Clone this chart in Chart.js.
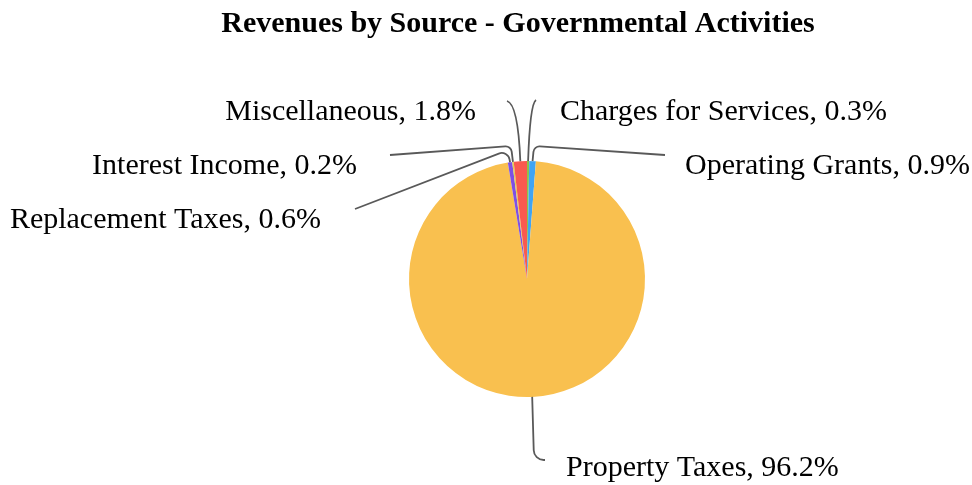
<!DOCTYPE html>
<html>
<head>
<meta charset="utf-8">
<script src="https://cdn.jsdelivr.net/npm/chart.js@4.4.1/dist/chart.umd.min.js"></script>
<style>
    html, body { margin: 0; padding: 0; background: #fff; }
    #wrap { width: 972px; height: 485px; position: relative; }
</style>
</head>
<body>
<div id="wrap"><canvas id="revenueChart"></canvas></div>
<script>
// slices clockwise from 12 o'clock
const categories = [
    "Charges for Services",
    "Operating Grants",
    "Property Taxes",
    "Replacement Taxes",
    "Interest Income",
    "Miscellaneous",
];
const shares = [0.3, 0.9, 96.2, 0.6, 0.2, 1.8];
const sliceColors = ["#8bc34a", "#40a4f4", "#f9c04f", "#7e50e4", "#e2d24c", "#f95a4f"];

// where each label sits and how its leader line runs
const labelLayout = [
    { x: 560, y: 120, align: "left", elbow: [530, 104], end: [536, 100], curve: "quad" },
    { x: 685, y: 174, align: "left", elbow: [534, 146], end: [665, 155], r: 6 },
    { x: 566, y: 476, align: "left", elbow: [534, 460], end: [545, 460], r: 10 },
    { x: 321, y: 228, align: "right", elbow: [508, 150], end: [355, 209], r: 8 },
    { x: 357, y: 174, align: "right", elbow: [511, 146], end: [390, 155], r: 6 },
    { x: 476, y: 120, align: "right", elbow: [518, 104], end: [507, 101], curve: "quad" },
];

const leaderLabels = {
    id: "leaderLabels",
    afterDraw(chart) {
        const ctx = chart.ctx;
        const meta = chart.getDatasetMeta(0);
        ctx.save();

        // title
        ctx.fillStyle = "#000";
        ctx.font = "bold 30px 'Liberation Serif', 'Times New Roman', serif";
        ctx.textAlign = "center";
        ctx.textBaseline = "alphabetic";
        ctx.fillText("Revenues by Source - Governmental Activities", 518, 32);

        meta.data.forEach((arc, i) => {
            const p = arc.getProps(["x", "y", "startAngle", "endAngle", "outerRadius"], true);
            const mid = (p.startAngle + p.endAngle) / 2;
            const ax = p.x + Math.cos(mid) * p.outerRadius;
            const ay = p.y + Math.sin(mid) * p.outerRadius;
            const lay = labelLayout[i];

            ctx.beginPath();
            ctx.strokeStyle = "#595959";
            ctx.lineWidth = 1.8;
            ctx.moveTo(ax, ay);
            if (lay.curve === "quad") {
                ctx.quadraticCurveTo(lay.elbow[0], lay.elbow[1], lay.end[0], lay.end[1]);
            } else {
                ctx.arcTo(lay.elbow[0], lay.elbow[1], lay.end[0], lay.end[1], lay.r);
                ctx.lineTo(lay.end[0], lay.end[1]);
            }
            ctx.stroke();

            ctx.fillStyle = "#000";
            ctx.font = "30px 'Liberation Serif', 'Times New Roman', serif";
            ctx.textAlign = lay.align;
            ctx.fillText(categories[i] + ", " + shares[i].toFixed(1) + "%", lay.x, lay.y);
        });
        ctx.restore();
    },
};

let revenueCtx = document.getElementById("revenueChart").getContext("2d");
let revenueChart = new Chart(revenueCtx, {
    type: "pie",
    data: {
        labels: categories,
        datasets: [
            {
                data: shares,
                backgroundColor: sliceColors,
                borderWidth: 0,
            },
        ],
    },
    options: {
        responsive: true,
        maintainAspectRatio: false,
        animation: false,
        layout: {
            padding: { left: 409, right: 327, top: 161, bottom: 88 },
        },
        plugins: {
            legend: { display: false },
            tooltip: { enabled: false },
            title: { display: false },
        },
    },
    plugins: [leaderLabels],
});
</script>
</body>
</html>
